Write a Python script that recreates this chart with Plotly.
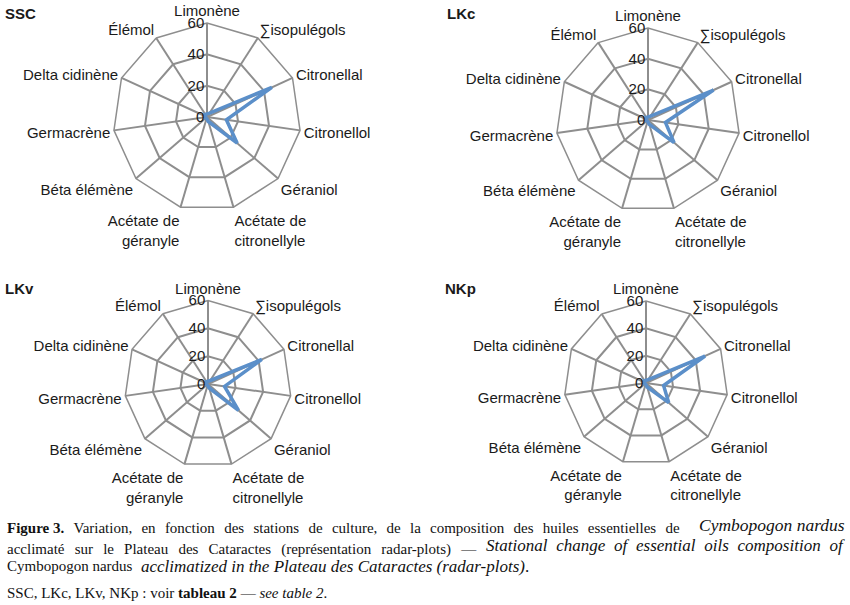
import plotly.graph_objects as go

categories = ["Limonène", "∑isopulégols", "Citronellal", "Citronellol", "Géraniol",
              "Acétate de<br>citronellyle", "Acétate de<br>géranyle", "Béta élémène",
              "Germacrène", "Delta cidinène", "Élémol"]
ssc = [2, 3, 45.5, 12.5, 25.5, 3, 1, 1, 1, 1, 2]
lkc = [2, 3, 47, 11.5, 22.5, 3, 1, 1, 1, 1, 2]
lkv = [2, 3, 42.5, 12, 29, 3, 1, 1, 1, 1, 2]
nkp = [2, 3, 47.5, 13, 22, 3, 1, 1, 1, 1, 2]
panel_names = ["SSC", "LKc", "LKv", "NKp"]
radial_ticks = [0, 20, 40, 60]

W, H = 850, 605
# (center x px, center y px, radius px)
geoms = [(207, 117, 94), (648, 120, 92), (208, 384, 83.5), (646, 383, 82)]
series = [ssc, lkc, lkv, nkp]
title_pos = [(3, 13), (445, 13), (3, 288), (443, 288)]

fig = go.Figure()
layout = dict(width=W, height=H, margin=dict(l=0, r=0, t=0, b=0),
              paper_bgcolor="white", plot_bgcolor="white", showlegend=False,
              font=dict(family="Liberation Sans, Arial", color="#1a1a1a"))
annotations = []
grid = "#8e8e8e"
for i, (vals, (cx, cy, r)) in enumerate(zip(series, geoms)):
    pname = "polar" if i == 0 else f"polar{i+1}"
    fig.add_trace(go.Scatterpolar(
        r=vals + [vals[0]], theta=categories + [categories[0]],
        mode="lines", line=dict(color="#5b8fc9", width=3.5),
        subplot=pname, hoverinfo="skip"))
    layout[pname] = dict(
        domain=dict(x=[(cx - r) / W, (cx + r) / W], y=[1 - (cy + r) / H, 1 - (cy - r) / H]),
        bgcolor="white",
        gridshape="linear",
        angularaxis=dict(rotation=90, direction="clockwise", categoryorder="array",
                         categoryarray=categories,
                         showline=True, linecolor=grid, linewidth=1.5,
                         gridcolor=grid, gridwidth=1.5,
                         ticks="",
                         tickfont=dict(size=15, color="#1a1a1a")),
        radialaxis=dict(range=[0, 60], tickvals=radial_ticks, angle=90,
                        side="counterclockwise", tickangle=90,
                        showline=False, gridcolor=grid, gridwidth=1.5,
                        ticks="",
                        tickfont=dict(size=15, color="#1a1a1a")),
    )
    tx, ty = title_pos[i]
    annotations.append(dict(text=f"<b>{panel_names[i]}</b>", x=tx / W, y=1 - ty / H,
                            xref="paper", yref="paper", xanchor="left", yanchor="middle",
                            showarrow=False, font=dict(size=15, color="#1a1a1a",
                                                       family="Liberation Sans, Arial")))

SERIF = "Liberation Serif, Times New Roman"


def gaps(text, gap_px):
    # widen word gaps to imitate the justified caption
    if gap_px <= 0:
        return text
    extra = f'<span style="font-size:{gap_px * 4:.1f}px">&nbsp;</span>'
    return text.replace(" ", " " + extra)


# caption pieces: (text, x px, anchor, y px, font size)
caption_parts = [
    ("<b>Figure\u00a03.</b>" + gaps(" Variation, en fonction des stations de culture, de la composition des huiles essentielles de", 5.5),
     5, "left", 525, 15),
    ("<i>Cymbopogon nardus</i>", 847, "right", 525, 17.5),
    (gaps("acclimaté sur le Plateau des Cataractes (représentation radar-plots) —", 6.4), 5, "left", 545, 15),
    ("<i>" + gaps("Stational change of essential oils composition of", 4.5) + "</i>", 847, "right", 545, 17),
    ("Cymbopogon nardus", 5, "left", 566, 15),
    ("<i>acclimatized in the Plateau des Cataractes (radar-plots)</i>.", 139, "left", 566, 17),
    ("SSC, LKc, LKv, NKp : voir <b>tableau 2</b> — <i>see table 2</i>.", 5, "left", 593, 15),
]
for txt, xx, anc, yy, fs in caption_parts:
    annotations.append(dict(text=txt, x=xx / W, y=1 - yy / H, xref="paper", yref="paper",
                            xanchor=anc, yanchor="middle", showarrow=False,
                            font=dict(size=fs, color="#111", family=SERIF)))
layout["annotations"] = annotations
fig.update_layout(**layout)
fig.write_html("out.html")
